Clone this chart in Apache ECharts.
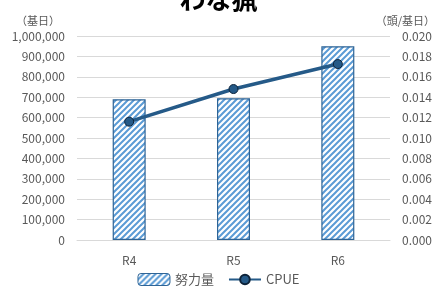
<!DOCTYPE html>
<html>
<head>
<meta charset="utf-8">
<script src="https://cdn.jsdelivr.net/npm/echarts@6/dist/echarts.min.js"></script>
<style>
html,body{margin:0;padding:0;background:#fff;}
#chart{width:437px;height:289px;}
</style>
</head>
<body>
<div id="chart"></div>
<script>
var categories = ['R4', 'R5', 'R6'];
var effort = [690000, 695000, 950000];
var cpue = [0.0116, 0.0148, 0.01725];

// hatch pattern for the bars
function makeHatch(){
    var c = document.createElement('canvas');
    c.width = 6; c.height = 6;
    var ctx = c.getContext('2d');
    ctx.fillStyle = '#ffffff';
    ctx.fillRect(0, 0, 6, 6);
    ctx.strokeStyle = '#5b9bd5';
    ctx.lineWidth = 2;
    ctx.beginPath();
    ctx.moveTo(-1, 7); ctx.lineTo(7, -1);
    ctx.moveTo(-4, 4); ctx.lineTo(4, -4);
    ctx.moveTo(2, 10); ctx.lineTo(10, 2);
    ctx.stroke();
    return c;
}

var font = '"Noto Sans CJK JP", sans-serif';
var chart = echarts.init(document.getElementById('chart'));
var option = {
    animation: false,
    textStyle: {fontFamily: font},
    title: {
        text: 'わな猟',
        left: 'center',
        top: -19,
        textStyle: {fontSize: 26, fontWeight: 'bold', color: '#000', fontFamily: font}
    },
    grid: {left: 77, right: 47, top: 36, bottom: 49, outerBoundsMode: 'none', containLabel: false},
    legend: {
        bottom: -2,
        left: 'center',
        itemWidth: 32,
        itemHeight: 12,
        itemGap: 14,
        textStyle: {fontSize: 13, color: '#595959', fontFamily: font},
        data: [
            {name: '努力量', itemStyle: {borderColor: '#2e6496', borderWidth: 1}},
            {name: 'CPUE'}
        ]
    },
    xAxis: {
        type: 'category',
        data: categories,
        axisLine: {lineStyle: {color: '#d9d9d9'}},
        axisTick: {show: false},
        axisLabel: {color: '#595959', fontSize: 12, margin: 14}
    },
    yAxis: [{
        type: 'value',
        min: 0, max: 1000000, interval: 100000,
        name: '（基日）',
        nameLocation: 'end',
        nameGap: 10,
        nameTextStyle: {color: '#595959', fontSize: 11, align: 'right', padding: [0, 17, 0, 0]},
        axisLabel: {
            color: '#595959', fontSize: 12, margin: 12,
            formatter: function(v){ return v.toLocaleString('en-US'); }
        },
        splitLine: {lineStyle: {color: '#d9d9d9'}},
        axisLine: {show: false},
        axisTick: {show: false}
    }, {
        type: 'value',
        min: 0, max: 0.02, interval: 0.002,
        name: '（頭/基日）',
        nameLocation: 'end',
        nameGap: 10,
        nameTextStyle: {color: '#595959', fontSize: 11, align: 'right', padding: [0, -45, 0, 0]},
        axisLabel: {
            color: '#595959', fontSize: 12, margin: 12,
            formatter: function(v){ return v.toFixed(3); }
        },
        splitLine: {show: false},
        axisLine: {show: false},
        axisTick: {show: false}
    }],
    series: [{
        name: '努力量',
        type: 'bar',
        data: effort,
        barWidth: 33,
        itemStyle: {
            color: {image: makeHatch(), repeat: 'repeat'},
            borderColor: '#2e6496',
            borderWidth: 1.2
        }
    }, {
        name: 'CPUE',
        type: 'line',
        yAxisIndex: 1,
        data: cpue,
        symbol: 'circle',
        symbolSize: 9,
        lineStyle: {color: '#255a88', width: 3.5},
        itemStyle: {color: '#255a88', borderColor: '#0d2238', borderWidth: 1}
    }]
};
chart.setOption(option);
</script>
</body>
</html>
